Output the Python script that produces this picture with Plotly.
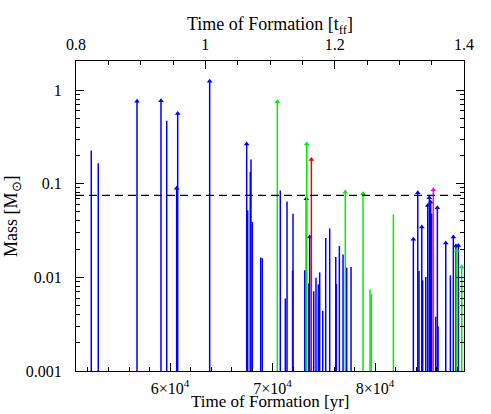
import plotly.graph_objects as go

# formation time [yr], final mass [Msun], colour group, still-accreting arrow
time_yr = [52320, 53000, 56780, 59120, 59680, 60650, 60750, 63870,
           67480, 67580, 67830, 67900, 68030, 68850, 69000,
           70470, 70760, 71250, 71415, 71960, 72000,
           73140, 73300, 73340, 73530, 73630, 73790, 74020, 74240, 74470,
           74600, 74900, 75190, 75580, 76170, 76230, 76520, 76880,
           77100, 77240, 77660, 78830, 79510, 79640, 81790,
           83740, 84170, 84290, 84560, 84650, 84950, 85140, 85300, 85430,
           85530, 85690, 85920, 86080, 86150, 86900, 87350, 87640, 87900,
           87970, 88130, 88460]
mass = [0.226, 0.165, 0.76, 0.77, 0.47, 0.0895, 0.56, 1.24,
        0.266, 0.052, 0.133, 0.181, 0.039, 0.0163, 0.016,
        0.75, 0.0847, 0.00594, 0.0646, 0.0118, 0.0478,
        0.0119, 0.069, 0.266, 0.0086, 0.0269, 0.181, 0.0071, 0.0099, 0.0084,
        0.0113, 0.00439, 0.0263, 0.0333, 0.0165, 0.0085, 0.0216, 0.0175,
        0.0813, 0.0127, 0.0129, 0.078, 0.0074, 0.0067, 0.047,
        0.0255, 0.080, 0.0117, 0.0344, 0.0093, 0.0101, 0.0586, 0.0708, 0.0635,
        0.048, 0.0862, 0.0038, 0.0553, 0.0030, 0.0233, 0.0105, 0.0269, 0.0216,
        0.0194, 0.0219, 0.0129]
group = ['b', 'b', 'b', 'b', 'b', 'b', 'b', 'b',
         'b', 'b', 'b', 'b', 'b', 'b', 'b',
         'g', 'b', 'b', 'b', 'b', 'b',
         'b', 'b', 'g', 'b', 'b', 'r', 'b', 'b', 'b',
         'b', 'b', 'b', 'b', 'b', 'b', 'b', 'b',
         'g', 'b', 'b', 'g', 'g', 'g', 'g',
         'b', 'b', 'b', 'b', 'b', 'b', 'b', 'b', 'b',
         'b', 'm', 'b', 'b', 'b', 'b', 'b', 'b', 'b',
         'g', 'b', 'g']
arrow = [0, 0, 1, 1, 0, 1, 1, 1,
         1, 0, 0, 0, 0, 0, 0,
         1, 0, 0, 0, 0, 0,
         0, 1, 1, 0, 1, 1, 0, 0, 0,
         0, 0, 0, 0, 0, 0, 0, 0,
         1, 0, 0, 1, 0, 0, 0,
         1, 1, 0, 1, 0, 0, 1, 1, 1,
         0, 1, 0, 1, 0, 1, 0, 1, 1,
         1, 1, 1]

BASE = 0.001
BD_LIMIT = 0.075
colors = {'b': '#0000ff', 'g': '#00ee00', 'r': '#ff0000', 'm': '#ff00ff'}

# minor ticks at 2..9 of each decade
y_minor = [k * 10.0 ** e for e in range(-3, 1) for k in range(2, 10)]

fig = go.Figure()

for g in ['b', 'g', 'r', 'm']:
    xs, ys, ax, ay = [], [], [], []
    for t, m, gg, a in zip(time_yr, mass, group, arrow):
        if gg != g:
            continue
        xs += [t, t, None]
        ys += [BASE, m, None]
        if a:
            ax.append(t)
            ay.append(m)
    fig.add_trace(go.Scatter(x=xs, y=ys, mode='lines',
                             line=dict(color=colors[g], width=1.5),
                             hoverinfo='skip', showlegend=False))
    fig.add_trace(go.Scatter(x=ax, y=ay, mode='markers',
                             marker=dict(symbol='triangle-up', size=5,
                                         color=colors[g], line=dict(width=0)),
                             hoverinfo='skip', showlegend=False))

# dummy trace so the top t_ff axis is drawn
fig.add_trace(go.Scatter(x=[0.8, 1.4], y=[BASE, BASE], xaxis='x2', mode='lines',
                         line=dict(width=0), hoverinfo='skip', showlegend=False))

fig.add_shape(type='line', xref='paper', yref='y', x0=0, x1=1,
              y0=BD_LIMIT, y1=BD_LIMIT,
              line=dict(color='black', width=1.2, dash='8px,5px'))

font = dict(family='Liberation Serif', size=16, color='black')
title_font = dict(family='Liberation Serif', size=18, color='black')

# axis titles as annotations, placed by hand
fig.add_annotation(text='Time of Formation [t<sub>ff</sub>]', xref='paper', yref='paper',
                   x=0.5, y=1.116, xanchor='center', yanchor='middle',
                   showarrow=False, font=title_font)
fig.add_annotation(text='Time of Formation [yr]', xref='paper', yref='paper',
                   x=0.5, y=-0.135, xanchor='center', yanchor='bottom',
                   showarrow=False, font=dict(title_font, size=17))
fig.add_annotation(text='Mass [M<sub>⊙</sub>]', xref='paper', yref='paper',
                   x=-0.165, y=0.5, xanchor='center', yanchor='middle',
                   textangle=-90, showarrow=False, font=title_font)

fig.update_layout(
    width=491, height=414,
    margin=dict(l=76, r=27, t=61, b=43),
    paper_bgcolor='white', plot_bgcolor='white',
    font=font,
    xaxis=dict(range=[50830, 88680], tickvals=[60000, 70000, 80000],
               ticktext=['6×10<sup>4</sup>', '7×10<sup>4</sup>', '8×10<sup>4</sup>'],
               ticks='inside', ticklen=8, tickcolor='black', ticklabelstandoff=3,
               minor=dict(dtick=2000, tick0=0, ticks='inside', ticklen=4, tickcolor='black'),
               showline=True, linecolor='black', linewidth=1,
               showgrid=False, zeroline=False, automargin=False),
    xaxis2=dict(overlaying='x', side='top', range=[0.8, 1.4],
                tickvals=[0.8, 1.0, 1.2, 1.4], ticktext=['0.8', '1', '1.2', '1.4'],
                ticks='inside', ticklen=8, tickcolor='black', ticklabelstandoff=4,
                minor=dict(dtick=0.05, tick0=0.8, ticks='inside', ticklen=4, tickcolor='black'),
                showline=True, linecolor='black', linewidth=1,
                showgrid=False, zeroline=False, automargin=False),
    yaxis=dict(type='log', range=[-3, 0.31],
               tickvals=[0.001, 0.01, 0.1, 1], ticktext=['0.001', '0.01', '0.1', '1'],
               ticks='inside', ticklen=8, tickcolor='black', ticklabelstandoff=10,
               minor=dict(tickvals=y_minor, ticks='inside', ticklen=4, tickcolor='black'),
               showline=True, mirror='ticks', linecolor='black', linewidth=1,
               showgrid=False, zeroline=False, automargin=False),
)

# the page body has a default margin; drop it so the figure fills the window
fig.write_html('out.html', config={'displayModeBar': False},
               post_script="document.body.style.margin='0px';")
